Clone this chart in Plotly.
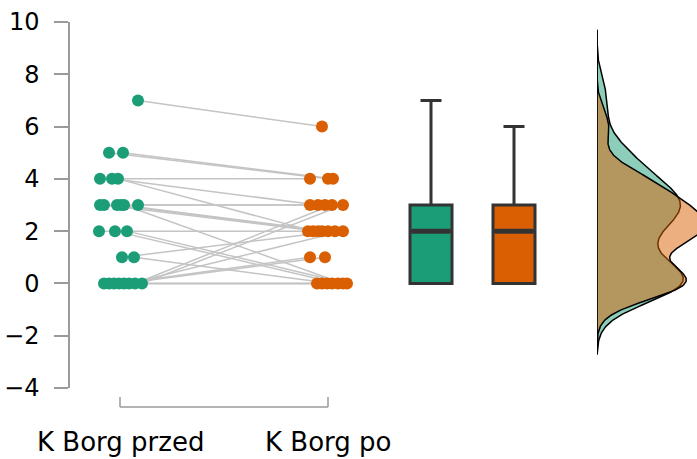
import numpy as np
import plotly.graph_objects as go

# ---- data ----
categories = ["K Borg przed", "K Borg po"]
przed = [7, 5, 5, 4, 4, 4, 3, 3, 3, 3, 3, 3, 2, 2, 2, 1, 1, 0, 0, 0, 0, 0, 0, 0, 0]
po    = [6, 4, 4, 4, 3, 2, 3, 2, 2, 2, 0, 3, 2, 0, 0, 2, 0, 0, 0, 0, 1, 1, 2, 3, 3]
# horizontal jitter (pixels around each category centre)
jitter_przed = [18, -11, 3, -20, -8, -2, -20, -16, -3, 1, 4, 18, -21, -5, 7, 2, 14,
                -16, -11, -6, -1, 4, 9, 15, 22]
jitter_po    = [-6, 0, 5, -18, -10, -15, -18, -10, -6, 0, 15, -3, -20, 10, 19, 7, 4,
                -11, -6, -1, -18, -3, 15, 4, 15]
y_ticks = [-4, -2, 0, 2, 4, 6, 8, 10]

green = "#1b9e77"
orange = "#d95f02"
dark = "#333333"
axis_grey = "#9a9a9a"

# ---- layout geometry ----
W, H = 697, 459
ml, mr, mt, mb = 70, 0, 22, 71
plot_w = W - ml - mr
px_per_unit = 208.0
x_lo = 1 - (120 - ml) / px_per_unit
dens_dom_start = (597 - ml) / plot_w
x_hi = x_lo + dens_dom_start * plot_w / px_per_unit
pos = [1.0, 2.0]
box_pos = [1 + (431 - 120) / px_per_unit, 1 + (514 - 120) / px_per_unit]
box_w = 42 / px_per_unit

fig = go.Figure()

xp = [pos[0] + j / px_per_unit for j in jitter_przed]
xo = [pos[1] + j / px_per_unit for j in jitter_po]

# connecting lines
lx, ly = [], []
for a, b, va, vb in zip(xp, xo, przed, po):
    lx += [a, b, None]
    ly += [va, vb, None]
fig.add_trace(go.Scatter(x=lx, y=ly, mode="lines",
                         line=dict(color="#c4c4c4", width=1.5),
                         hoverinfo="skip", showlegend=False))
fig.add_trace(go.Scatter(x=xp, y=przed, mode="markers",
                         marker=dict(color=green, size=12, line=dict(width=0)),
                         showlegend=False))
fig.add_trace(go.Scatter(x=xo, y=po, mode="markers",
                         marker=dict(color=orange, size=12, line=dict(width=0)),
                         showlegend=False))

# boxplots (Tukey: whiskers to most extreme point within 1.5 IQR)
for vals, col, bp in [(przed, green, box_pos[0]), (po, orange, box_pos[1])]:
    v = np.asarray(vals, float)
    q1, med, q3 = np.percentile(v, [25, 50, 75])
    iqr = q3 - q1
    lo = v[v >= q1 - 1.5 * iqr].min()
    hi = v[v <= q3 + 1.5 * iqr].max()
    fig.add_trace(go.Box(x=[bp], q1=[q1], median=[med], q3=[q3],
                         lowerfence=[lo], upperfence=[hi],
                         width=box_w, fillcolor=col,
                         line=dict(color=dark, width=3), whiskerwidth=0.5,
                         boxpoints=False, showlegend=False))
    fig.add_trace(go.Scatter(x=[bp - box_w / 2 + 0.008, bp + box_w / 2 - 0.008], y=[med, med],
                             mode="lines", line=dict(color=dark, width=5),
                             hoverinfo="skip", showlegend=False))

# densities (gaussian KDE)
def bw_nrd0(v):
    v = np.asarray(v, float)
    sd = v.std(ddof=1)
    iqr = np.subtract(*np.percentile(v, [75, 25]))
    return 0.9 * min(sd, iqr / 1.34) * len(v) ** (-0.2)

bw_adjust = 0.85
bws = [bw_nrd0(przed) * bw_adjust, bw_nrd0(po) * bw_adjust]
ext = 2.7
grid = np.linspace(min(min(przed), min(po)) - ext, max(max(przed), max(po)) + ext, 400)

def kde(v, bw):
    v = np.asarray(v, float)
    z = (grid[:, None] - v[None, :]) / bw
    return np.exp(-0.5 * z ** 2).sum(axis=1) / (len(v) * bw * np.sqrt(2 * np.pi))

for vals, bw, fill in [(przed, bws[0], "rgba(27,158,119,0.5)"),
                       (po, bws[1], "rgba(217,95,2,0.5)")]:
    d = kde(vals, bw)
    xs = [0.0] + list(d) + [0.0, 0.0]
    ys = [grid[0]] + list(grid) + [grid[-1], grid[0]]
    fig.add_trace(go.Scatter(x=xs, y=ys, xaxis="x2", yaxis="y", mode="lines",
                             fill="toself", fillcolor=fill,
                             line=dict(color="black", width=1.5),
                             hoverinfo="skip", showlegend=False))

# custom bottom axis bracket
plot_h = H - mt - mb
def py(pix):
    return (H - mb - pix) / plot_h

y_line = py(407)
y_tick = py(397)
shapes = [
    dict(type="line", xref="x", yref="paper", x0=pos[0], x1=pos[1], y0=y_line, y1=y_line,
         line=dict(color=axis_grey, width=1.5)),
]
for p in pos:
    shapes.append(dict(type="line", xref="x", yref="paper", x0=p, x1=p, y0=y_line, y1=y_tick,
                       line=dict(color=axis_grey, width=1.5)))

annotations = []
for p, lab in zip(pos, categories):
    annotations.append(dict(x=p, xref="x", y=py(442), yref="paper", text=lab,
                            showarrow=False, xanchor="center", yanchor="middle",
                            font=dict(family="DejaVu Sans", size=26, color="black")))

fig.update_layout(
    width=W, height=H,
    margin=dict(l=ml, r=mr, t=mt, b=mb, pad=0),
    paper_bgcolor="white", plot_bgcolor="white",
    font=dict(family="DejaVu Sans", color="black"),
    shapes=shapes, annotations=annotations,
    xaxis=dict(domain=[0, dens_dom_start], range=[x_lo, x_hi], visible=False),
    xaxis2=dict(domain=[dens_dom_start, 1], range=[0, 0.214], anchor="y", visible=False),
    yaxis=dict(range=[-4, 10], tickvals=y_ticks, showgrid=False, zeroline=False,
               showline=True, linecolor=axis_grey, linewidth=1.5,
               ticks="outside", ticklen=14, tickwidth=1.5, tickcolor=axis_grey,
               tickfont=dict(family="DejaVu Sans", size=24, color="black"),
               ticklabelstandoff=10),
)

fig.write_html("out.html")
